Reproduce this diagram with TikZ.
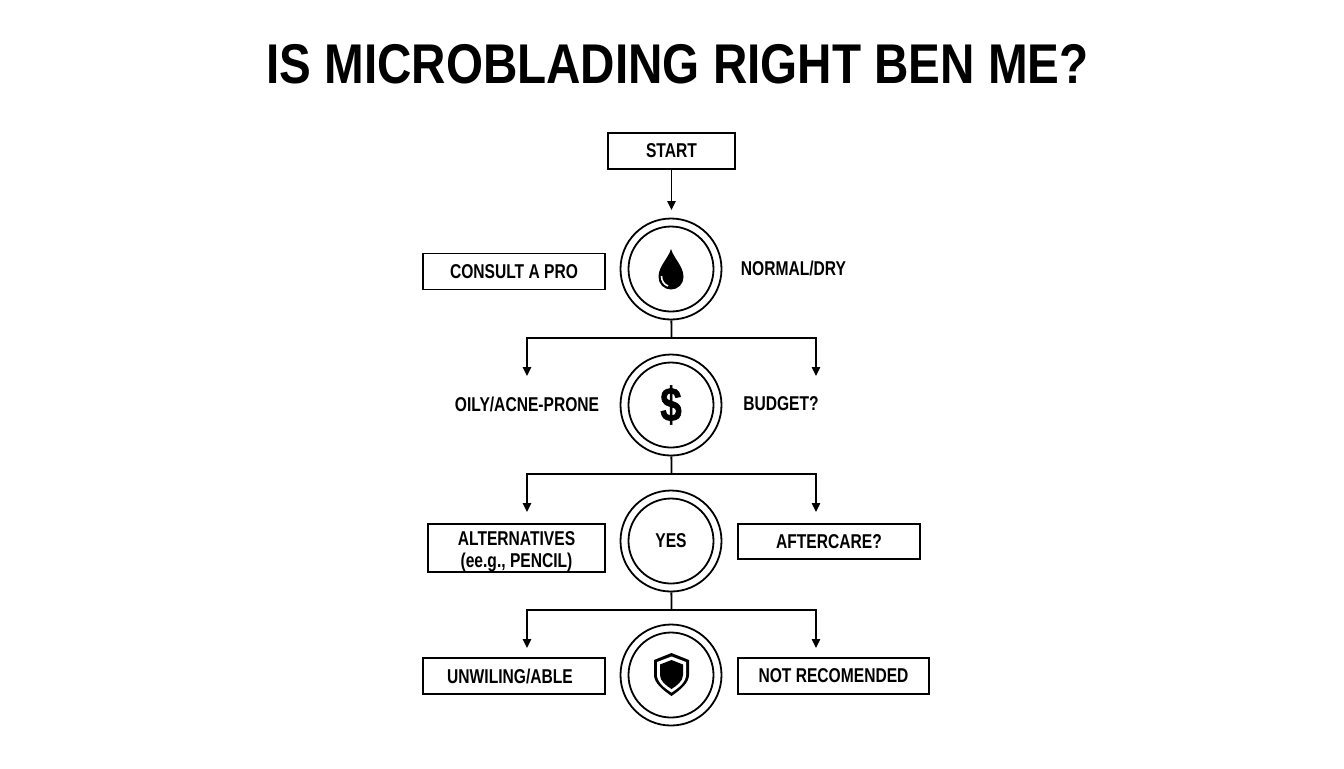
\documentclass[tikz,border=0pt]{standalone}
\usepackage{fontspec}
\setmainfont{Liberation Sans}[FakeStretch=0.78]
\newfontfamily\titlefont{Liberation Sans}[FakeStretch=0.85]
\newfontfamily\dollarfont{Liberation Sans}[FakeStretch=0.8, FakeBold=1.2]
\usetikzlibrary{arrows.meta}
\tikzset{
  box/.style={draw, line width=0.9pt, minimum height=18pt, inner sep=0pt, font=\fontsize{10}{11}\selectfont\bfseries},
  label/.style={inner sep=0pt, font=\fontsize{10}{11}\selectfont\bfseries},
  ring/.style={draw, circle, line width=0.9pt, minimum size=50.5pt, inner sep=0pt},
  core/.style={draw, circle, line width=0.9pt, minimum size=42.5pt, inner sep=0pt},
  link/.style={line width=0.9pt},
  flow/.style={line width=0.9pt, -{Triangle[length=4.5pt,width=4.2pt]}}
}
\begin{document}
\begin{tikzpicture}[x=0.5pt, y=0.5pt]
  \useasboundingbox (0,0) rectangle (1344,-768);

  % Заголовок
  \node[inner sep=0pt, font=\fontsize{28}{30}\selectfont\titlefont\bfseries] (title) at (677.5,-64) {IS MICROBLADING RIGHT BEN ME?};

  % Блоки
  \node[box, minimum width=63.5pt] (start) at (671.5,-151) {START};
  \node[box, minimum width=91pt] (consult) at (514,-271.5) {CONSULT A PRO};
  \node[box, minimum width=88.5pt, minimum height=24pt, align=center] (alternatives) at (516.5,-548) {\rule{0pt}{10.2pt}ALTERNATIVES\\(ee.g., PENCIL)};
  \node[box, minimum width=91pt, minimum height=17.5pt] (aftercare) at (829,-541.5) {AFTERCARE?};
  \node[box, minimum width=91pt] (unwilling) at (514,-676) {UNWILING/ABLE\hspace*{4pt}};
  \node[box, minimum width=95.5pt] (notrec) at (833.5,-676) {NOT RECOMENDED};

  % Круги
  \node[ring] (skin) at (671,-269) {};
  \node[core] at (skin) {};
  \node[ring] (budget) at (671,-405) {};
  \node[core] at (budget) {};
  \node[ring] (yes) at (671,-541) {};
  \node[core, font=\fontsize{10}{11}\selectfont\bfseries] at (yes) {YES};
  \node[ring] (safe) at (671,-675) {};
  \node[core] at (safe) {};

  % Подписи
  \node[label] (normal) at (793.5,-268) {NORMAL/DRY};
  \node[label] (oily) at (527,-404) {OILY/ACNE-PRONE};
  \node[label] (budgetq) at (781,-404) {BUDGET?};

  % Значки
  \fill (671,-249) .. controls (674,-259) and (683.5,-266) .. (683.5,-277)
    .. controls (683.5,-284) and (678,-289.5) .. (671,-289.5)
    .. controls (664,-289.5) and (658.5,-284) .. (658.5,-277)
    .. controls (658.5,-266) and (668,-259) .. (671,-249) -- cycle;
  \draw[white, line width=0.8pt] (661.5,-276) .. controls (661.5,-281) and (664,-284.5) .. (668,-286);
  \node[inner sep=0pt, font=\fontsize{24}{26}\selectfont\dollarfont\bfseries] (dollar) at (671,-405) {\$};
  \fill (671.5,-653) -- (689,-660) -- (689,-675) .. controls (689,-683) and (680,-690) .. (671.5,-696)
    .. controls (663,-690) and (654,-683) .. (654,-675) -- (654,-660) -- cycle;
  \fill[white] (671.5,-656.5) -- (686,-662) -- (686,-675) .. controls (686,-682) and (678.5,-688) .. (671.5,-692.5)
    .. controls (664.5,-688) and (657,-682) .. (657,-675) -- (657,-662) -- cycle;
  \fill (671.5,-660) -- (683,-664.5) -- (683,-675) .. controls (683,-681) and (677,-685.5) .. (671.5,-689)
    .. controls (666,-685.5) and (660,-681) .. (660,-675) -- (660,-664.5) -- cycle;

  % Точки ветвления
  \coordinate (fork1) at (671.5,-338);
  \coordinate (left1) at (527,-376);
  \coordinate (right1) at (816,-376);
  \coordinate (fork2) at (671.5,-474);
  \coordinate (left2) at (527,-512);
  \coordinate (right2) at (816,-512);
  \coordinate (fork3) at (671.5,-610);
  \coordinate (left3) at (527,-648);
  \coordinate (right3) at (816,-648);
  \coordinate (tip) at (671.5,-210);

  % Стрелки
  \draw[flow] (start) -- (tip);
  \draw[link] (skin) -- (fork1);
  \draw[flow] (fork1) -| (left1);
  \draw[flow] (fork1) -| (right1);
  \draw[link] (budget) -- (fork2);
  \draw[flow] (fork2) -| (left2);
  \draw[flow] (fork2) -| (right2);
  \draw[link] (yes) -- (fork3);
  \draw[flow] (fork3) -| (left3);
  \draw[flow] (fork3) -| (right3);
\end{tikzpicture}
\end{document}
